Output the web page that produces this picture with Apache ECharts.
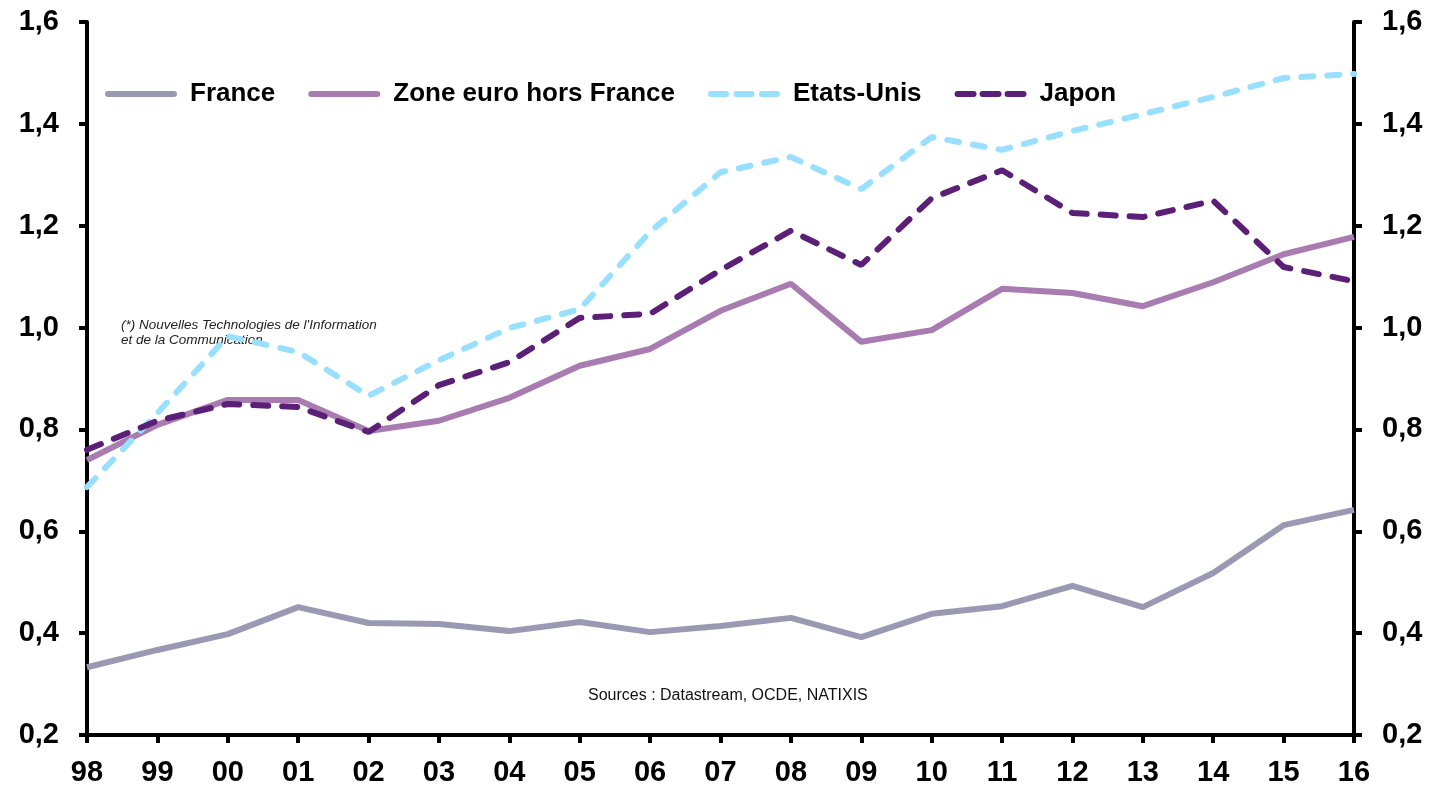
<!DOCTYPE html>
<html>
<head>
<meta charset="utf-8">
<script src="https://cdn.jsdelivr.net/npm/echarts@6/dist/echarts.min.js"></script>
<style>
  html, body { margin: 0; padding: 0; background: #fff; }
  #chart { width: 1436px; height: 789px; }
</style>
</head>
<body>
<div id="chart"></div>
<script>
const years = ['98', '99', '00', '01', '02', '03', '04', '05', '06', '07', '08', '09', '10', '11', '12', '13', '14', '15', '16']
const france = [0.333, 0.367, 0.398, 0.451, 0.420, 0.418, 0.404, 0.422, 0.402, 0.414, 0.430, 0.392, 0.438, 0.453, 0.493, 0.451, 0.518, 0.612, 0.642]
const zoneEuro = [0.740, 0.809, 0.858, 0.858, 0.797, 0.817, 0.862, 0.925, 0.958, 1.033, 1.086, 0.972, 0.995, 1.076, 1.068, 1.042, 1.089, 1.144, 1.178]
const etatsUnis = [0.687, 0.832, 0.983, 0.952, 0.866, 0.936, 0.999, 1.036, 1.188, 1.305, 1.335, 1.272, 1.374, 1.349, 1.386, 1.419, 1.453, 1.490, 1.498]
const japon = [0.760, 0.817, 0.850, 0.844, 0.795, 0.887, 0.932, 1.019, 1.027, 1.113, 1.190, 1.123, 1.254, 1.309, 1.225, 1.217, 1.249, 1.119, 1.091]

const chart = echarts.init(document.getElementById('chart'))
const font = 'Liberation Sans, Arial, sans-serif'

// legend icons: rounded bars, 72 x 6
const seg = (x, w) => 'M' + (x + 3) + ',0h' + (w - 6) + 'a3,3 0 0 1 0,6h-' + (w - 6) + 'a3,3 0 0 1 0,-6z'
const solidIcon = 'path://' + seg(0, 72)
const usIcon = 'path://' + seg(0, 21) + seg(25.5, 21) + seg(51, 21)
const jpIcon = 'path://' + seg(0, 22) + seg(25, 22) + seg(50, 22)

const yAxisBase = {
  type: 'value',
  min: 0.2,
  max: 1.6,
  interval: 0.2,
  splitLine: { show: false },
  axisLine: { show: true, lineStyle: { color: '#000', width: 4 } },
  axisTick: { show: true, inside: false, length: 8, lineStyle: { color: '#000', width: 4 } },
  axisLabel: {
    color: '#000', fontFamily: font, fontWeight: 'bold', fontSize: 29, margin: 28,
    formatter: v => v.toFixed(1).replace('.', ',')
  }
}

const option = {
  backgroundColor: '#fff',
  animation: false,
  grid: { left: 87, right: 82, top: 22, bottom: 54, containLabel: false },
  legend: {
    top: 76,
    left: 100,
    itemWidth: 72,
    itemHeight: 6,
    itemGap: 33,
    textStyle: { color: '#000', fontFamily: font, fontWeight: 'bold', fontSize: 26, padding: [0, 0, 0, 8] },
    data: [
      { name: 'France', icon: solidIcon },
      { name: 'Zone euro hors France', icon: solidIcon },
      { name: 'Etats-Unis', icon: usIcon },
      { name: 'Japon', icon: jpIcon }
    ]
  },
  xAxis: {
    type: 'category',
    data: years,
    boundaryGap: false,
    axisLine: { lineStyle: { color: '#000', width: 4 } },
    axisTick: { show: true, length: 8, interval: 0, lineStyle: { color: '#000', width: 4 } },
    axisLabel: { color: '#000', fontFamily: font, fontWeight: 'bold', fontSize: 29, margin: 23, interval: 0 }
  },
  yAxis: [
    Object.assign({}, yAxisBase, { position: 'left' }),
    Object.assign({}, yAxisBase, { position: 'right' })
  ],
  series: [
    {
      name: 'France', type: 'line', data: france, symbol: 'none',
      lineStyle: { color: '#9999B4', width: 6 }, itemStyle: { color: '#9999B4' }
    },
    {
      name: 'Zone euro hors France', type: 'line', data: zoneEuro, symbol: 'none',
      lineStyle: { color: '#A87BB1', width: 6 }, itemStyle: { color: '#A87BB1' }
    },
    {
      name: 'Etats-Unis', type: 'line', data: etatsUnis, symbol: 'none',
      lineStyle: { color: '#99DFFF', width: 6, type: [12, 14], cap: 'round' }, itemStyle: { color: '#99DFFF' }
    },
    {
      name: 'Japon', type: 'line', data: japon, symbol: 'none',
      lineStyle: { color: '#5B1F77', width: 6, type: [15, 14], cap: 'round' }, itemStyle: { color: '#5B1F77' }
    }
  ],
  graphic: [
    {
      type: 'text', left: 121, top: 318,
      style: {
        text: "(*) Nouvelles Technologies de l'Information\net de la Communication",
        font: 'italic 13.5px ' + font, fill: '#222', lineHeight: 15
      }
    },
    {
      type: 'text', left: 588, top: 688,
      style: { text: 'Sources : Datastream, OCDE, NATIXIS', font: '16px ' + font, fill: '#111' }
    }
  ]
}

// use configuration item and data specified to show chart
chart.setOption(option)
</script>
</body>
</html>
